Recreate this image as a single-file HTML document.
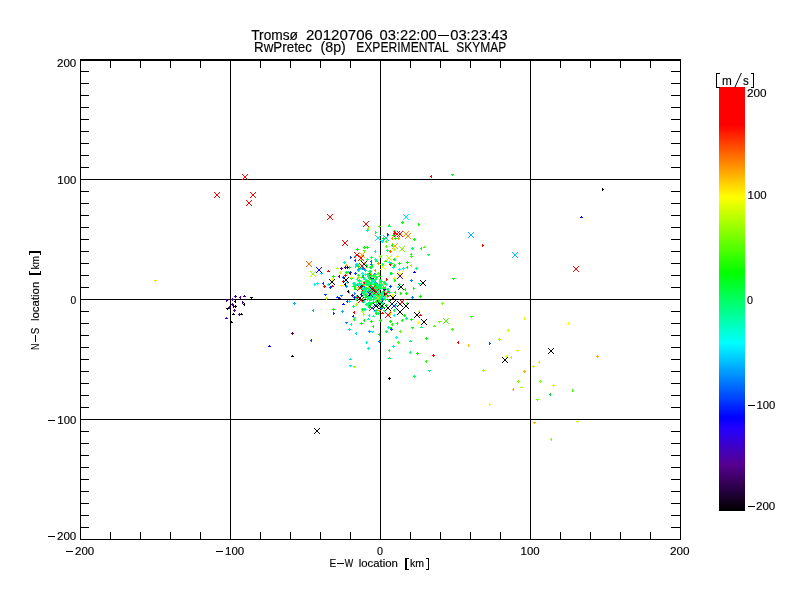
<!DOCTYPE html>
<html><head><meta charset="utf-8"><title>Skymap</title>
<style>html,body{margin:0;padding:0;background:#fff}body{width:800px;height:600px;overflow:hidden}svg{display:block;will-change:transform}text{font-family:"Liberation Sans",sans-serif;fill:#000;stroke:#000;stroke-width:.15px}</style></head><body>
<svg width="800" height="600" viewBox="0 0 800 600">
<defs>
<linearGradient id="cb" x1="0" y1="0" x2="0" y2="1">
<stop offset="0.0000" stop-color="#ff0000"/>
<stop offset="0.0896" stop-color="#ff0000"/>
<stop offset="0.2594" stop-color="#ffff00"/>
<stop offset="0.4387" stop-color="#00ff00"/>
<stop offset="0.6038" stop-color="#00ffff"/>
<stop offset="0.7795" stop-color="#0000ff"/>
<stop offset="0.8042" stop-color="#2300ff"/>
<stop offset="0.8903" stop-color="#570091"/>
<stop offset="1.0000" stop-color="#000000"/>
</linearGradient>
<path id="x" d="M-3 -3h1v1h-1zM-2 -2h1v1h-1zM-1 -1h1v1h-1zM0 0h1v1h-1zM1 1h1v1h-1zM2 2h1v1h-1zM-3 2h1v1h-1zM-2 1h1v1h-1zM-1 0h1v1h-1zM0 -1h1v1h-1zM1 -2h1v1h-1zM2 -3h1v1h-1z"/>
<path id="p" d="M0 0h1v1h-1zM-1 0h1v1h-1zM1 0h1v1h-1zM0 -1h1v1h-1zM0 1h1v1h-1z"/>
<path id="u" d="M0 -1h1v1h-1zM-1 0h1v1h-1zM0 0h1v1h-1zM1 0h1v1h-1z"/>
<path id="d" d="M0 1h1v1h-1zM-1 0h1v1h-1zM0 0h1v1h-1zM1 0h1v1h-1z"/>
<path id="l" d="M-1 0h1v1h-1zM0 -1h1v1h-1zM0 0h1v1h-1zM0 1h1v1h-1z"/>
<path id="r" d="M1 0h1v1h-1zM0 -1h1v1h-1zM0 0h1v1h-1zM0 1h1v1h-1z"/>
</defs>
<rect x="0" y="0" width="800" height="600" fill="#fff"/>
<g fill="#000" shape-rendering="crispEdges">
<rect x="80" y="59" width="601" height="2"/>
<rect x="80" y="539" width="601" height="1"/>
<rect x="80" y="59" width="1" height="481"/>
<rect x="680" y="59" width="1" height="481"/>
<rect x="230" y="59" width="1" height="481"/>
<rect x="380" y="59" width="1" height="481"/>
<rect x="530" y="59" width="1" height="481"/>
<rect x="80" y="179" width="601" height="1"/>
<rect x="80" y="299" width="601" height="1"/>
<rect x="80" y="419" width="601" height="1"/>
<path d="M110 61h1v7h-1zM110 532h1v7h-1zM140 61h1v7h-1zM140 532h1v7h-1zM170 61h1v7h-1zM170 532h1v7h-1zM200 61h1v7h-1zM200 532h1v7h-1zM260 61h1v7h-1zM260 532h1v7h-1zM290 61h1v7h-1zM290 532h1v7h-1zM320 61h1v7h-1zM320 532h1v7h-1zM350 61h1v7h-1zM350 532h1v7h-1zM410 61h1v7h-1zM410 532h1v7h-1zM440 61h1v7h-1zM440 532h1v7h-1zM470 61h1v7h-1zM470 532h1v7h-1zM500 61h1v7h-1zM500 532h1v7h-1zM560 61h1v7h-1zM560 532h1v7h-1zM590 61h1v7h-1zM590 532h1v7h-1zM620 61h1v7h-1zM620 532h1v7h-1zM650 61h1v7h-1zM650 532h1v7h-1zM81 71h8v1h-8zM671 71h9v1h-9zM81 83h8v1h-8zM671 83h9v1h-9zM81 95h8v1h-8zM671 95h9v1h-9zM81 107h8v1h-8zM671 107h9v1h-9zM81 119h8v1h-8zM671 119h9v1h-9zM81 131h8v1h-8zM671 131h9v1h-9zM81 143h8v1h-8zM671 143h9v1h-9zM81 155h8v1h-8zM671 155h9v1h-9zM81 167h8v1h-8zM671 167h9v1h-9zM81 191h8v1h-8zM671 191h9v1h-9zM81 203h8v1h-8zM671 203h9v1h-9zM81 215h8v1h-8zM671 215h9v1h-9zM81 227h8v1h-8zM671 227h9v1h-9zM81 239h8v1h-8zM671 239h9v1h-9zM81 251h8v1h-8zM671 251h9v1h-9zM81 263h8v1h-8zM671 263h9v1h-9zM81 275h8v1h-8zM671 275h9v1h-9zM81 287h8v1h-8zM671 287h9v1h-9zM81 311h8v1h-8zM671 311h9v1h-9zM81 323h8v1h-8zM671 323h9v1h-9zM81 335h8v1h-8zM671 335h9v1h-9zM81 347h8v1h-8zM671 347h9v1h-9zM81 359h8v1h-8zM671 359h9v1h-9zM81 371h8v1h-8zM671 371h9v1h-9zM81 383h8v1h-8zM671 383h9v1h-9zM81 395h8v1h-8zM671 395h9v1h-9zM81 407h8v1h-8zM671 407h9v1h-9zM81 431h8v1h-8zM671 431h9v1h-9zM81 443h8v1h-8zM671 443h9v1h-9zM81 455h8v1h-8zM671 455h9v1h-9zM81 467h8v1h-8zM671 467h9v1h-9zM81 479h8v1h-8zM671 479h9v1h-9zM81 491h8v1h-8zM671 491h9v1h-9zM81 503h8v1h-8zM671 503h9v1h-9zM81 515h8v1h-8zM671 515h9v1h-9zM81 527h8v1h-8zM671 527h9v1h-9z"/>
</g>
<g shape-rendering="crispEdges">
<use href="#p" x="370" y="293" fill="#00ff65"/>
<use href="#p" x="370" y="290" fill="#00ff75"/>
<use href="#l" x="377" y="292" fill="#00ff60"/>
<use href="#p" x="387" y="289" fill="#00ff7b"/>
<use href="#p" x="376" y="289" fill="#00ffb0"/>
<use href="#p" x="379" y="297" fill="#00ff5f"/>
<use href="#p" x="374" y="293" fill="#00ff57"/>
<use href="#d" x="360" y="283" fill="#00ff0b"/>
<use href="#p" x="367" y="292" fill="#6bff00"/>
<use href="#d" x="361" y="277" fill="#72ff00"/>
<use href="#l" x="378" y="289" fill="#00ff85"/>
<use href="#p" x="383" y="287" fill="#00cdff"/>
<use href="#d" x="379" y="284" fill="#00ff5e"/>
<use href="#u" x="353" y="286" fill="#00ff4f"/>
<use href="#r" x="388" y="300" fill="#00ff7d"/>
<use href="#r" x="371" y="286" fill="#00ff58"/>
<use href="#u" x="365" y="285" fill="#00ff97"/>
<use href="#p" x="356" y="296" fill="#00ff7b"/>
<use href="#l" x="372" y="293" fill="#000cff"/>
<use href="#l" x="364" y="290" fill="#470077"/>
<use href="#p" x="376" y="297" fill="#00ff29"/>
<use href="#p" x="376" y="298" fill="#00ff80"/>
<use href="#p" x="349" y="267" fill="#00ff1d"/>
<use href="#l" x="388" y="289" fill="#00ff7c"/>
<use href="#p" x="362" y="285" fill="#00ff9f"/>
<use href="#p" x="378" y="299" fill="#00ff60"/>
<use href="#p" x="348" y="272" fill="#00ffa0"/>
<use href="#d" x="362" y="295" fill="#00ff6f"/>
<use href="#r" x="382" y="300" fill="#00ff8a"/>
<use href="#u" x="383" y="307" fill="#00ff49"/>
<use href="#d" x="365" y="284" fill="#00ff64"/>
<use href="#p" x="385" y="295" fill="#6eff00"/>
<use href="#p" x="368" y="291" fill="#00ff36"/>
<use href="#p" x="369" y="293" fill="#00f0ff"/>
<use href="#r" x="372" y="280" fill="#00ffdb"/>
<use href="#u" x="381" y="293" fill="#00ff59"/>
<use href="#d" x="362" y="300" fill="#550095"/>
<use href="#p" x="374" y="296" fill="#00ff6e"/>
<use href="#p" x="387" y="292" fill="#00ff51"/>
<use href="#p" x="374" y="284" fill="#ff8e00"/>
<use href="#p" x="373" y="275" fill="#00ff54"/>
<use href="#l" x="394" y="310" fill="#00ff3e"/>
<use href="#p" x="378" y="293" fill="#00ff5c"/>
<use href="#r" x="358" y="285" fill="#7dff00"/>
<use href="#p" x="367" y="284" fill="#00e3ff"/>
<use href="#p" x="386" y="305" fill="#00ff1d"/>
<use href="#u" x="376" y="283" fill="#00ff6b"/>
<use href="#l" x="373" y="279" fill="#1500ff"/>
<use href="#l" x="371" y="264" fill="#006aff"/>
<use href="#p" x="377" y="294" fill="#ff8e00"/>
<use href="#p" x="358" y="270" fill="#00ff6f"/>
<use href="#d" x="370" y="273" fill="#9dff00"/>
<use href="#p" x="354" y="283" fill="#00ff91"/>
<use href="#p" x="374" y="276" fill="#00fdff"/>
<use href="#p" x="359" y="288" fill="#8fff00"/>
<use href="#p" x="361" y="281" fill="#d9ff00"/>
<use href="#p" x="380" y="288" fill="#0900ff"/>
<use href="#p" x="381" y="299" fill="#8bff00"/>
<use href="#p" x="375" y="298" fill="#fff600"/>
<use href="#p" x="369" y="271" fill="#00ffb2"/>
<use href="#p" x="355" y="285" fill="#00ff6d"/>
<use href="#p" x="392" y="295" fill="#eeff00"/>
<use href="#d" x="363" y="291" fill="#00ff43"/>
<use href="#r" x="386" y="295" fill="#83ff00"/>
<use href="#p" x="364" y="283" fill="#00ff0d"/>
<use href="#p" x="375" y="311" fill="#00ffd5"/>
<use href="#p" x="374" y="280" fill="#00f4ff"/>
<use href="#l" x="361" y="260" fill="#00ff0d"/>
<use href="#p" x="358" y="275" fill="#00ff31"/>
<use href="#u" x="382" y="313" fill="#ff0000"/>
<use href="#p" x="360" y="268" fill="#00ff9c"/>
<use href="#p" x="372" y="293" fill="#00ff62"/>
<use href="#p" x="380" y="287" fill="#00ff45"/>
<use href="#u" x="398" y="287" fill="#00ffa1"/>
<use href="#p" x="369" y="295" fill="#00ff6b"/>
<use href="#p" x="377" y="299" fill="#000000"/>
<use href="#p" x="374" y="289" fill="#00ff97"/>
<use href="#l" x="358" y="287" fill="#9fff00"/>
<use href="#u" x="394" y="278" fill="#ecff00"/>
<use href="#p" x="362" y="301" fill="#00ff84"/>
<use href="#p" x="378" y="292" fill="#daff00"/>
<use href="#l" x="369" y="288" fill="#ffa000"/>
<use href="#u" x="371" y="295" fill="#00ffa5"/>
<use href="#d" x="372" y="289" fill="#2d00e9"/>
<use href="#u" x="365" y="283" fill="#00ffa6"/>
<use href="#u" x="370" y="291" fill="#00ffa1"/>
<use href="#u" x="371" y="288" fill="#0091ff"/>
<use href="#u" x="364" y="279" fill="#00ff9a"/>
<use href="#p" x="361" y="277" fill="#bdff00"/>
<use href="#d" x="380" y="283" fill="#96ff00"/>
<use href="#p" x="369" y="302" fill="#00ff28"/>
<use href="#p" x="384" y="283" fill="#ff9200"/>
<use href="#p" x="355" y="273" fill="#003cff"/>
<use href="#p" x="385" y="283" fill="#00ffd4"/>
<use href="#l" x="355" y="260" fill="#0038ff"/>
<use href="#p" x="362" y="273" fill="#00fff3"/>
<use href="#p" x="378" y="273" fill="#4bff00"/>
<use href="#p" x="372" y="279" fill="#0005ff"/>
<use href="#r" x="373" y="280" fill="#00ff7e"/>
<use href="#p" x="357" y="284" fill="#00ff53"/>
<use href="#u" x="378" y="293" fill="#b9ff00"/>
<use href="#r" x="368" y="282" fill="#00ff93"/>
<use href="#r" x="365" y="270" fill="#00ff68"/>
<use href="#p" x="361" y="286" fill="#000000"/>
<use href="#p" x="364" y="282" fill="#ff0000"/>
<use href="#r" x="384" y="294" fill="#000000"/>
<use href="#p" x="355" y="297" fill="#00ffc0"/>
<use href="#d" x="372" y="279" fill="#00ff2c"/>
<use href="#d" x="351" y="278" fill="#00ff14"/>
<use href="#p" x="370" y="287" fill="#ff0000"/>
<use href="#p" x="368" y="276" fill="#00ff7f"/>
<use href="#d" x="379" y="298" fill="#00f3ff"/>
<use href="#p" x="390" y="312" fill="#ffdf00"/>
<use href="#p" x="365" y="293" fill="#00ff76"/>
<use href="#p" x="372" y="291" fill="#00ff4f"/>
<use href="#u" x="369" y="282" fill="#00ff8a"/>
<use href="#l" x="375" y="270" fill="#ff8900"/>
<use href="#p" x="357" y="264" fill="#48ff00"/>
<use href="#p" x="371" y="276" fill="#72ff00"/>
<use href="#p" x="395" y="305" fill="#00ff78"/>
<use href="#u" x="371" y="296" fill="#00ff99"/>
<use href="#p" x="357" y="284" fill="#00ffab"/>
<use href="#r" x="378" y="313" fill="#00ff72"/>
<use href="#l" x="364" y="301" fill="#00ffa3"/>
<use href="#p" x="381" y="297" fill="#00ff80"/>
<use href="#p" x="375" y="282" fill="#00b7ff"/>
<use href="#l" x="362" y="291" fill="#00ff3c"/>
<use href="#d" x="359" y="283" fill="#00ff6a"/>
<use href="#p" x="358" y="266" fill="#00ff15"/>
<use href="#l" x="361" y="294" fill="#3600d8"/>
<use href="#p" x="374" y="287" fill="#00ff3a"/>
<use href="#r" x="382" y="264" fill="#00ff7c"/>
<use href="#r" x="390" y="286" fill="#500085"/>
<use href="#p" x="377" y="294" fill="#ff0000"/>
<use href="#r" x="370" y="271" fill="#00ff37"/>
<use href="#p" x="378" y="290" fill="#75ff00"/>
<use href="#l" x="378" y="296" fill="#53ff00"/>
<use href="#p" x="384" y="298" fill="#00ff9c"/>
<use href="#u" x="371" y="287" fill="#000000"/>
<use href="#p" x="371" y="297" fill="#00ff9a"/>
<use href="#u" x="373" y="316" fill="#00ffa3"/>
<use href="#p" x="384" y="282" fill="#00ff4e"/>
<use href="#p" x="379" y="287" fill="#beff00"/>
<use href="#p" x="366" y="294" fill="#00e5ff"/>
<use href="#p" x="365" y="285" fill="#00ff2c"/>
<use href="#u" x="373" y="296" fill="#00ff56"/>
<use href="#r" x="355" y="266" fill="#00ff4e"/>
<use href="#l" x="378" y="288" fill="#00ffdf"/>
<use href="#p" x="364" y="278" fill="#00ff73"/>
<use href="#p" x="370" y="278" fill="#000000"/>
<use href="#p" x="381" y="287" fill="#9cff00"/>
<use href="#l" x="364" y="286" fill="#007bff"/>
<use href="#p" x="368" y="288" fill="#00ff83"/>
<use href="#p" x="378" y="289" fill="#00ff38"/>
<use href="#p" x="366" y="304" fill="#00ff6f"/>
<use href="#p" x="356" y="299" fill="#00ff40"/>
<use href="#p" x="358" y="285" fill="#00e9ff"/>
<use href="#p" x="375" y="290" fill="#0086ff"/>
<use href="#d" x="374" y="292" fill="#00ff86"/>
<use href="#d" x="376" y="288" fill="#ff0000"/>
<use href="#p" x="368" y="303" fill="#00ff9a"/>
<use href="#l" x="347" y="282" fill="#00fdff"/>
<use href="#r" x="375" y="283" fill="#00ff30"/>
<use href="#p" x="371" y="267" fill="#00ff87"/>
<use href="#p" x="368" y="296" fill="#00ff7c"/>
<use href="#p" x="378" y="300" fill="#00ff64"/>
<use href="#p" x="378" y="300" fill="#000000"/>
<use href="#p" x="372" y="292" fill="#1cff00"/>
<use href="#p" x="379" y="289" fill="#00ff57"/>
<use href="#p" x="364" y="269" fill="#00a6ff"/>
<use href="#u" x="371" y="296" fill="#63ff00"/>
<use href="#p" x="373" y="296" fill="#00ff11"/>
<use href="#u" x="374" y="292" fill="#000000"/>
<use href="#p" x="365" y="285" fill="#edff00"/>
<use href="#p" x="382" y="299" fill="#0070ff"/>
<use href="#p" x="381" y="294" fill="#00ff5a"/>
<use href="#p" x="376" y="283" fill="#00ff1f"/>
<use href="#p" x="365" y="288" fill="#00ff5b"/>
<use href="#d" x="367" y="281" fill="#00ffd3"/>
<use href="#p" x="375" y="289" fill="#00f0ff"/>
<use href="#u" x="364" y="290" fill="#00ffda"/>
<use href="#l" x="360" y="284" fill="#00ff7c"/>
<use href="#p" x="358" y="277" fill="#85ff00"/>
<use href="#u" x="368" y="319" fill="#00ffd0"/>
<use href="#l" x="372" y="265" fill="#00ff1f"/>
<use href="#p" x="382" y="292" fill="#00ff7a"/>
<use href="#p" x="383" y="288" fill="#00ff2c"/>
<use href="#r" x="354" y="293" fill="#008fff"/>
<use href="#l" x="378" y="292" fill="#00ff56"/>
<use href="#p" x="364" y="294" fill="#00ffab"/>
<use href="#l" x="374" y="292" fill="#00ff30"/>
<use href="#p" x="379" y="289" fill="#1700ff"/>
<use href="#l" x="380" y="286" fill="#00ff45"/>
<use href="#p" x="364" y="263" fill="#acff00"/>
<use href="#p" x="376" y="301" fill="#00ff04"/>
<use href="#p" x="378" y="299" fill="#00ff42"/>
<use href="#p" x="375" y="287" fill="#79ff00"/>
<use href="#u" x="364" y="292" fill="#76ff00"/>
<use href="#d" x="373" y="299" fill="#00ff75"/>
<use href="#r" x="387" y="296" fill="#00ff73"/>
<use href="#p" x="358" y="269" fill="#00b5ff"/>
<use href="#d" x="382" y="296" fill="#00ff74"/>
<use href="#p" x="369" y="287" fill="#00ff40"/>
<use href="#p" x="375" y="276" fill="#00fbff"/>
<use href="#p" x="362" y="268" fill="#007cff"/>
<use href="#p" x="370" y="267" fill="#00ff19"/>
<use href="#p" x="368" y="306" fill="#beff00"/>
<use href="#u" x="376" y="310" fill="#00ff15"/>
<use href="#p" x="369" y="307" fill="#09ff00"/>
<use href="#p" x="359" y="284" fill="#00ffd7"/>
<use href="#u" x="375" y="295" fill="#ddff00"/>
<use href="#p" x="381" y="308" fill="#0084ff"/>
<use href="#r" x="390" y="273" fill="#00ff5e"/>
<use href="#l" x="376" y="286" fill="#81ff00"/>
<use href="#p" x="365" y="293" fill="#00ff39"/>
<use href="#p" x="366" y="288" fill="#00ff68"/>
<use href="#d" x="362" y="311" fill="#c3ff00"/>
<use href="#l" x="374" y="298" fill="#00ff81"/>
<use href="#p" x="384" y="296" fill="#00fff4"/>
<use href="#d" x="369" y="291" fill="#00ff79"/>
<use href="#d" x="371" y="293" fill="#93ff00"/>
<use href="#p" x="389" y="314" fill="#8fff00"/>
<use href="#u" x="378" y="293" fill="#00ff94"/>
<use href="#d" x="388" y="295" fill="#00ff5e"/>
<use href="#r" x="362" y="276" fill="#00ff12"/>
<use href="#l" x="385" y="297" fill="#00ffac"/>
<use href="#p" x="377" y="287" fill="#00ffa2"/>
<use href="#l" x="363" y="276" fill="#0095ff"/>
<use href="#p" x="369" y="295" fill="#000000"/>
<use href="#p" x="371" y="275" fill="#00ff75"/>
<use href="#r" x="376" y="287" fill="#28ff00"/>
<use href="#p" x="371" y="303" fill="#00ff3d"/>
<use href="#p" x="366" y="265" fill="#00ff62"/>
<use href="#u" x="355" y="289" fill="#00ff09"/>
<use href="#p" x="376" y="287" fill="#00ff12"/>
<use href="#p" x="376" y="283" fill="#00abff"/>
<use href="#p" x="379" y="284" fill="#00ff23"/>
<use href="#r" x="399" y="284" fill="#00ff66"/>
<use href="#p" x="375" y="289" fill="#00ff8b"/>
<use href="#p" x="376" y="304" fill="#00ffa8"/>
<use href="#p" x="378" y="291" fill="#00ffb0"/>
<use href="#p" x="376" y="290" fill="#c1ff00"/>
<use href="#d" x="385" y="299" fill="#04ff00"/>
<use href="#l" x="357" y="279" fill="#00ffa0"/>
<use href="#p" x="375" y="291" fill="#0043ff"/>
<use href="#p" x="371" y="292" fill="#00d8ff"/>
<use href="#u" x="370" y="297" fill="#00ff95"/>
<use href="#d" x="369" y="304" fill="#ff0000"/>
<use href="#r" x="374" y="274" fill="#0041ff"/>
<use href="#l" x="383" y="294" fill="#00ffbd"/>
<use href="#p" x="369" y="287" fill="#d1ff00"/>
<use href="#l" x="365" y="281" fill="#00ffa1"/>
<use href="#p" x="375" y="259" fill="#00ffbe"/>
<use href="#r" x="366" y="266" fill="#05ff00"/>
<use href="#p" x="359" y="281" fill="#00ff9e"/>
<use href="#p" x="369" y="274" fill="#ff0000"/>
<use href="#p" x="374" y="276" fill="#7eff00"/>
<use href="#p" x="364" y="291" fill="#00ff52"/>
<use href="#l" x="366" y="292" fill="#ffbc00"/>
<use href="#p" x="357" y="297" fill="#ff0000"/>
<use href="#p" x="382" y="303" fill="#00ff88"/>
<use href="#d" x="384" y="310" fill="#00ff75"/>
<use href="#p" x="375" y="274" fill="#00ff53"/>
<use href="#u" x="368" y="274" fill="#00ff47"/>
<use href="#p" x="376" y="284" fill="#3e00c7"/>
<use href="#p" x="365" y="279" fill="#00ffa4"/>
<use href="#p" x="389" y="292" fill="#00ff50"/>
<use href="#p" x="375" y="295" fill="#00e4ff"/>
<use href="#p" x="366" y="288" fill="#00ff19"/>
<use href="#l" x="371" y="288" fill="#97ff00"/>
<use href="#p" x="369" y="286" fill="#00ff92"/>
<use href="#p" x="373" y="290" fill="#00ff17"/>
<use href="#l" x="366" y="295" fill="#00ff29"/>
<use href="#p" x="369" y="283" fill="#00ff4e"/>
<use href="#d" x="369" y="285" fill="#00ff92"/>
<use href="#p" x="369" y="278" fill="#00ff39"/>
<use href="#u" x="371" y="282" fill="#00ff28"/>
<use href="#l" x="372" y="291" fill="#00ff68"/>
<use href="#d" x="367" y="280" fill="#00ff3a"/>
<use href="#p" x="368" y="296" fill="#00ffcf"/>
<use href="#p" x="370" y="290" fill="#00ff68"/>
<use href="#p" x="379" y="296" fill="#00ff46"/>
<use href="#d" x="365" y="290" fill="#00ff68"/>
<use href="#p" x="362" y="299" fill="#15ff00"/>
<use href="#p" x="376" y="298" fill="#00ff44"/>
<use href="#u" x="367" y="285" fill="#00ff8f"/>
<use href="#l" x="372" y="292" fill="#00ff14"/>
<use href="#u" x="367" y="284" fill="#00ffb4"/>
<use href="#p" x="371" y="297" fill="#1aff00"/>
<use href="#p" x="379" y="289" fill="#00ffaf"/>
<use href="#p" x="375" y="279" fill="#00ff70"/>
<use href="#p" x="369" y="289" fill="#00ff81"/>
<use href="#l" x="366" y="282" fill="#00ff70"/>
<use href="#p" x="371" y="299" fill="#00ff39"/>
<use href="#p" x="364" y="293" fill="#00ff90"/>
<use href="#l" x="370" y="294" fill="#00ff4e"/>
<use href="#u" x="363" y="292" fill="#00ff80"/>
<use href="#r" x="370" y="286" fill="#00ff75"/>
<use href="#d" x="368" y="284" fill="#00ffa9"/>
<use href="#p" x="371" y="297" fill="#00ff2e"/>
<use href="#p" x="381" y="285" fill="#00ff66"/>
<use href="#p" x="369" y="298" fill="#00ff9c"/>
<use href="#p" x="377" y="293" fill="#00ff5f"/>
<use href="#r" x="375" y="288" fill="#00ff82"/>
<use href="#p" x="380" y="303" fill="#00ff5a"/>
<use href="#p" x="367" y="274" fill="#00ff50"/>
<use href="#u" x="381" y="284" fill="#00ff9e"/>
<use href="#r" x="371" y="284" fill="#00ff4f"/>
<use href="#l" x="375" y="293" fill="#00ff97"/>
<use href="#p" x="377" y="297" fill="#00ff6d"/>
<use href="#p" x="380" y="285" fill="#00ff6b"/>
<use href="#p" x="362" y="288" fill="#00ffa7"/>
<use href="#r" x="369" y="300" fill="#00ff50"/>
<use href="#l" x="376" y="286" fill="#29ff00"/>
<use href="#d" x="371" y="287" fill="#00ff55"/>
<use href="#d" x="380" y="293" fill="#00ff33"/>
<use href="#p" x="378" y="295" fill="#00ffd1"/>
<use href="#d" x="371" y="282" fill="#00ffb9"/>
<use href="#p" x="370" y="286" fill="#00ff8d"/>
<use href="#p" x="371" y="295" fill="#00ff2e"/>
<use href="#l" x="370" y="303" fill="#00ff84"/>
<use href="#d" x="384" y="290" fill="#08ff00"/>
<use href="#d" x="367" y="281" fill="#00ff9f"/>
<use href="#p" x="372" y="288" fill="#00ff38"/>
<use href="#l" x="382" y="294" fill="#00ff64"/>
<use href="#p" x="377" y="293" fill="#00ffcb"/>
<use href="#p" x="376" y="284" fill="#00ff37"/>
<use href="#p" x="379" y="286" fill="#00ff57"/>
<use href="#p" x="371" y="283" fill="#00ff9b"/>
<use href="#p" x="370" y="285" fill="#00ffb7"/>
<use href="#p" x="374" y="293" fill="#00ff14"/>
<use href="#p" x="370" y="286" fill="#00ff38"/>
<use href="#u" x="369" y="289" fill="#00ffa1"/>
<use href="#p" x="374" y="291" fill="#00ff6b"/>
<use href="#l" x="363" y="289" fill="#00ff5f"/>
<use href="#p" x="378" y="288" fill="#00ff4d"/>
<use href="#p" x="359" y="280" fill="#00ff6f"/>
<use href="#r" x="371" y="293" fill="#00ff9b"/>
<use href="#p" x="374" y="292" fill="#00ffe2"/>
<use href="#p" x="365" y="274" fill="#00ff9a"/>
<use href="#u" x="377" y="296" fill="#00ff46"/>
<use href="#p" x="373" y="302" fill="#00ff11"/>
<use href="#p" x="367" y="299" fill="#00ff44"/>
<use href="#r" x="380" y="296" fill="#00ff71"/>
<use href="#p" x="377" y="289" fill="#00ff46"/>
<use href="#p" x="374" y="291" fill="#00ff7b"/>
<use href="#r" x="370" y="299" fill="#00ff5a"/>
<use href="#r" x="368" y="305" fill="#00ff6f"/>
<use href="#p" x="380" y="306" fill="#00ff80"/>
<use href="#l" x="368" y="284" fill="#00ff6e"/>
<use href="#u" x="374" y="284" fill="#00ff38"/>
<use href="#p" x="369" y="289" fill="#00ff58"/>
<use href="#d" x="367" y="281" fill="#00ff23"/>
<use href="#p" x="373" y="290" fill="#00ff5b"/>
<use href="#p" x="371" y="297" fill="#00ff7d"/>
<use href="#p" x="370" y="283" fill="#00ff33"/>
<use href="#u" x="373" y="291" fill="#00ff90"/>
<use href="#p" x="380" y="303" fill="#00ff8c"/>
<use href="#p" x="380" y="302" fill="#00ff8f"/>
<use href="#r" x="379" y="282" fill="#00ff82"/>
<use href="#l" x="379" y="295" fill="#00ff9e"/>
<use href="#p" x="373" y="276" fill="#00ff89"/>
<use href="#p" x="378" y="293" fill="#00ff10"/>
<use href="#l" x="372" y="291" fill="#00ff71"/>
<use href="#p" x="381" y="297" fill="#00ff97"/>
<use href="#d" x="363" y="284" fill="#00ff6e"/>
<use href="#p" x="370" y="289" fill="#00ffba"/>
<use href="#d" x="375" y="286" fill="#00ff79"/>
<use href="#p" x="370" y="291" fill="#00ff11"/>
<use href="#d" x="362" y="292" fill="#00ff56"/>
<use href="#p" x="374" y="287" fill="#00ff83"/>
<use href="#p" x="372" y="291" fill="#00ff9d"/>
<use href="#p" x="378" y="285" fill="#00ff91"/>
<use href="#r" x="374" y="284" fill="#00ff3c"/>
<use href="#u" x="379" y="276" fill="#00ff2a"/>
<use href="#l" x="364" y="309" fill="#00ffbd"/>
<use href="#r" x="380" y="294" fill="#00ff6d"/>
<use href="#l" x="380" y="280" fill="#00ff12"/>
<use href="#d" x="372" y="288" fill="#00ff61"/>
<use href="#l" x="364" y="278" fill="#00ffa2"/>
<use href="#p" x="376" y="286" fill="#17ff00"/>
<use href="#u" x="373" y="293" fill="#00ff0a"/>
<use href="#p" x="379" y="294" fill="#00ff2c"/>
<use href="#r" x="382" y="294" fill="#00ffc7"/>
<use href="#p" x="379" y="300" fill="#00ff4e"/>
<use href="#p" x="371" y="299" fill="#00ff6f"/>
<use href="#d" x="369" y="296" fill="#00ff6e"/>
<use href="#p" x="375" y="295" fill="#00ff14"/>
<use href="#p" x="378" y="286" fill="#00ff35"/>
<use href="#p" x="379" y="301" fill="#00ff0d"/>
<use href="#p" x="381" y="281" fill="#00ff3a"/>
<use href="#l" x="385" y="287" fill="#00ff2a"/>
<use href="#d" x="369" y="286" fill="#00ff86"/>
<use href="#d" x="373" y="294" fill="#00ffab"/>
<use href="#r" x="373" y="293" fill="#00ff63"/>
<use href="#u" x="380" y="301" fill="#00ff77"/>
<use href="#u" x="373" y="292" fill="#00ff84"/>
<use href="#d" x="376" y="298" fill="#00ff71"/>
<use href="#p" x="370" y="291" fill="#00ff56"/>
<use href="#r" x="376" y="277" fill="#00ff2c"/>
<use href="#d" x="380" y="298" fill="#00ff75"/>
<use href="#p" x="373" y="296" fill="#00ffb8"/>
<use href="#p" x="370" y="304" fill="#00ff2d"/>
<use href="#p" x="376" y="291" fill="#00ff73"/>
<use href="#r" x="366" y="291" fill="#00ffec"/>
<use href="#p" x="376" y="284" fill="#00ff80"/>
<use href="#u" x="378" y="293" fill="#00ff60"/>
<use href="#p" x="375" y="294" fill="#00ff47"/>
<use href="#p" x="374" y="293" fill="#00ff1d"/>
<use href="#p" x="372" y="280" fill="#00ff9c"/>
<use href="#p" x="366" y="284" fill="#00ff5e"/>
<use href="#l" x="374" y="293" fill="#00ff2b"/>
<use href="#d" x="379" y="287" fill="#00ff84"/>
<use href="#r" x="379" y="280" fill="#00ffba"/>
<use href="#p" x="365" y="297" fill="#00ff22"/>
<use href="#d" x="373" y="295" fill="#00ffd0"/>
<use href="#p" x="371" y="283" fill="#00ff81"/>
<use href="#p" x="386" y="284" fill="#00ffb1"/>
<use href="#d" x="371" y="279" fill="#00ff39"/>
<use href="#p" x="378" y="285" fill="#00ff8c"/>
<use href="#d" x="155" y="280" fill="#ffdc00"/>
<use href="#r" x="226" y="300" fill="#500096"/>
<use href="#p" x="232" y="299" fill="#500096"/>
<use href="#p" x="235" y="296" fill="#500096"/>
<use href="#l" x="240" y="297" fill="#500096"/>
<use href="#u" x="244" y="296" fill="#500096"/>
<use href="#d" x="251" y="297" fill="#000000"/>
<use href="#l" x="235" y="301" fill="#000000"/>
<use href="#p" x="232" y="304" fill="#500096"/>
<use href="#r" x="242" y="302" fill="#500096"/>
<use href="#l" x="244" y="304" fill="#000000"/>
<use href="#r" x="233" y="306" fill="#000000"/>
<use href="#r" x="235" y="306" fill="#000000"/>
<use href="#d" x="227" y="308" fill="#000000"/>
<use href="#p" x="229" y="307" fill="#500096"/>
<use href="#p" x="234" y="310" fill="#500096"/>
<use href="#u" x="233" y="314" fill="#000000"/>
<use href="#l" x="239" y="314" fill="#500096"/>
<use href="#u" x="241" y="314" fill="#000000"/>
<use href="#u" x="226" y="318" fill="#3c00ff"/>
<use href="#u" x="231" y="322" fill="#000000"/>
<use href="#u" x="269" y="346" fill="#0000ff"/>
<use href="#p" x="294" y="303" fill="#00b4ff"/>
<use href="#l" x="313" y="310" fill="#00b4ff"/>
<use href="#p" x="333" y="309" fill="#00ff00"/>
<use href="#r" x="333" y="313" fill="#003cff"/>
<use href="#u" x="343" y="304" fill="#0000ff"/>
<use href="#p" x="342" y="311" fill="#00b4ff"/>
<use href="#d" x="346" y="322" fill="#1e78ff"/>
<use href="#p" x="349" y="329" fill="#00e6b4"/>
<use href="#p" x="292" y="333" fill="#500064"/>
<use href="#l" x="311" y="340" fill="#003cff"/>
<use href="#u" x="292" y="356" fill="#000000"/>
<use href="#l" x="356" y="333" fill="#00dcff"/>
<use href="#p" x="369" y="331" fill="#0096ff"/>
<use href="#d" x="372" y="331" fill="#00f0e6"/>
<use href="#l" x="379" y="334" fill="#00ff00"/>
<use href="#p" x="386" y="331" fill="#00ff50"/>
<use href="#l" x="400" y="331" fill="#50ff00"/>
<use href="#p" x="396" y="337" fill="#00f0e6"/>
<use href="#p" x="398" y="342" fill="#3cff00"/>
<use href="#u" x="410" y="341" fill="#00ff64"/>
<use href="#p" x="426" y="338" fill="#00ff00"/>
<use href="#r" x="366" y="342" fill="#00f0b4"/>
<use href="#p" x="379" y="341" fill="#0082ff"/>
<use href="#p" x="368" y="348" fill="#00f0dc"/>
<use href="#p" x="393" y="346" fill="#00f0b4"/>
<use href="#l" x="389" y="350" fill="#28ff00"/>
<use href="#l" x="410" y="352" fill="#00ff64"/>
<use href="#p" x="417" y="353" fill="#1eff00"/>
<use href="#u" x="389" y="358" fill="#00ff50"/>
<use href="#l" x="426" y="361" fill="#1eff00"/>
<use href="#u" x="350" y="359" fill="#00f0c8"/>
<use href="#d" x="350" y="365" fill="#00e6ff"/>
<use href="#d" x="354" y="366" fill="#82ff00"/>
<use href="#d" x="429" y="370" fill="#00f0b4"/>
<use href="#p" x="414" y="376" fill="#00ff50"/>
<use href="#p" x="389" y="378" fill="#000000"/>
<use href="#p" x="442" y="303" fill="#82ff00"/>
<use href="#d" x="439" y="321" fill="#64ff00"/>
<use href="#u" x="434" y="326" fill="#3cff00"/>
<use href="#p" x="452" y="329" fill="#3cff00"/>
<use href="#d" x="471" y="316" fill="#3cff00"/>
<use href="#r" x="524" y="318" fill="#e6ff00"/>
<use href="#l" x="508" y="330" fill="#beff00"/>
<use href="#p" x="499" y="339" fill="#96ff00"/>
<use href="#l" x="458" y="342" fill="#ff0000"/>
<use href="#r" x="468" y="345" fill="#ffbe00"/>
<use href="#r" x="489" y="343" fill="#0050ff"/>
<use href="#d" x="517" y="350" fill="#dcff00"/>
<use href="#p" x="506" y="356" fill="#e6ff00"/>
<use href="#l" x="511" y="357" fill="#beff00"/>
<use href="#p" x="433" y="355" fill="#ff0000"/>
<use href="#p" x="483" y="370" fill="#96ff00"/>
<use href="#p" x="524" y="371" fill="#ffaa00"/>
<use href="#p" x="568" y="323" fill="#ffff00"/>
<use href="#p" x="597" y="356" fill="#ffaa00"/>
<use href="#l" x="539" y="362" fill="#c8ff00"/>
<use href="#p" x="533" y="366" fill="#c8ff00"/>
<use href="#p" x="518" y="381" fill="#78ff00"/>
<use href="#p" x="540" y="381" fill="#78ff00"/>
<use href="#u" x="521" y="387" fill="#beff00"/>
<use href="#l" x="513" y="389" fill="#ffaa00"/>
<use href="#p" x="553" y="385" fill="#dcff00"/>
<use href="#r" x="572" y="390" fill="#3cff00"/>
<use href="#l" x="550" y="394" fill="#00dc3c"/>
<use href="#d" x="537" y="399" fill="#64ff00"/>
<use href="#r" x="489" y="404" fill="#e6ff00"/>
<use href="#d" x="534" y="422" fill="#ffaa00"/>
<use href="#d" x="577" y="421" fill="#c8ff00"/>
<use href="#l" x="551" y="439" fill="#82ff00"/>
<use href="#r" x="602" y="189" fill="#000000"/>
<use href="#u" x="581" y="217" fill="#0000ff"/>
<use href="#r" x="482" y="245" fill="#ff0000"/>
<use href="#l" x="431" y="176" fill="#ff0000"/>
<use href="#d" x="452" y="174" fill="#00ff28"/>
<use href="#p" x="402" y="222" fill="#00ff00"/>
<use href="#l" x="389" y="225" fill="#28ff00"/>
<use href="#r" x="418" y="224" fill="#00ff00"/>
<use href="#l" x="368" y="228" fill="#82ff00"/>
<use href="#p" x="367" y="230" fill="#00f0dc"/>
<use href="#p" x="379" y="226" fill="#64ff00"/>
<use href="#u" x="389" y="226" fill="#00ff64"/>
<use href="#r" x="375" y="232" fill="#00ff50"/>
<use href="#r" x="387" y="234" fill="#3c00ff"/>
<use href="#p" x="383" y="238" fill="#00ff00"/>
<use href="#p" x="382" y="241" fill="#00e6ff"/>
<use href="#l" x="386" y="241" fill="#3cff00"/>
<use href="#l" x="386" y="246" fill="#50ff00"/>
<use href="#l" x="375" y="251" fill="#00e6ff"/>
<use href="#p" x="387" y="250" fill="#00ff78"/>
<use href="#p" x="357" y="249" fill="#00ff00"/>
<use href="#p" x="364" y="247" fill="#00ff00"/>
<use href="#p" x="367" y="247" fill="#00ff00"/>
<use href="#d" x="364" y="250" fill="#50ff00"/>
<use href="#r" x="350" y="257" fill="#003cff"/>
<use href="#l" x="355" y="256" fill="#00dcff"/>
<use href="#p" x="367" y="259" fill="#00ff64"/>
<use href="#p" x="371" y="257" fill="#00ff64"/>
<use href="#p" x="380" y="256" fill="#64ff00"/>
<use href="#l" x="371" y="261" fill="#0064ff"/>
<use href="#u" x="376" y="261" fill="#00ff50"/>
<use href="#p" x="378" y="263" fill="#ff8c00"/>
<use href="#u" x="385" y="261" fill="#00ff00"/>
<use href="#p" x="344" y="262" fill="#00f0b4"/>
<use href="#p" x="356" y="264" fill="#00dcff"/>
<use href="#u" x="346" y="265" fill="#ffaa00"/>
<use href="#p" x="347" y="267" fill="#000000"/>
<use href="#p" x="341" y="268" fill="#5000a0"/>
<use href="#p" x="345" y="267" fill="#3c008c"/>
<use href="#u" x="337" y="268" fill="#beff00"/>
<use href="#u" x="328" y="271" fill="#ff0000"/>
<use href="#d" x="321" y="273" fill="#00f0e6"/>
<use href="#l" x="340" y="272" fill="#beff00"/>
<use href="#p" x="333" y="276" fill="#00ff00"/>
<use href="#l" x="339" y="276" fill="#500096"/>
<use href="#p" x="343" y="277" fill="#003cff"/>
<use href="#p" x="345" y="275" fill="#ff0000"/>
<use href="#p" x="343" y="281" fill="#ff0000"/>
<use href="#p" x="332" y="279" fill="#ffff00"/>
<use href="#p" x="351" y="277" fill="#ffff00"/>
<use href="#p" x="347" y="273" fill="#ffff00"/>
<use href="#p" x="346" y="272" fill="#00ff00"/>
<use href="#p" x="350" y="272" fill="#003cff"/>
<use href="#l" x="350" y="273" fill="#500096"/>
<use href="#r" x="314" y="284" fill="#00f0e6"/>
<use href="#p" x="317" y="283" fill="#00f0e6"/>
<use href="#l" x="323" y="283" fill="#003cff"/>
<use href="#p" x="324" y="286" fill="#ff0000"/>
<use href="#l" x="328" y="284" fill="#00f0e6"/>
<use href="#p" x="330" y="287" fill="#003cff"/>
<use href="#u" x="332" y="286" fill="#ff0000"/>
<use href="#p" x="341" y="285" fill="#ffff00"/>
<use href="#l" x="345" y="284" fill="#000000"/>
<use href="#p" x="346" y="286" fill="#0096ff"/>
<use href="#l" x="353" y="283" fill="#00f0e6"/>
<use href="#r" x="354" y="287" fill="#00ff00"/>
<use href="#d" x="325" y="294" fill="#003cff"/>
<use href="#p" x="326" y="298" fill="#aaff00"/>
<use href="#u" x="337" y="297" fill="#003cff"/>
<use href="#u" x="339" y="298" fill="#500096"/>
<use href="#d" x="341" y="295" fill="#0078ff"/>
<use href="#l" x="349" y="292" fill="#ff9600"/>
<use href="#l" x="348" y="291" fill="#000000"/>
<use href="#p" x="352" y="295" fill="#500096"/>
<use href="#p" x="354" y="297" fill="#003cff"/>
<use href="#l" x="347" y="301" fill="#003cff"/>
<use href="#p" x="349" y="301" fill="#00f0e6"/>
<use href="#l" x="313" y="310" fill="#00b4ff"/>
<use href="#l" x="354" y="312" fill="#ff0000"/>
<use href="#p" x="353" y="306" fill="#00ff78"/>
<use href="#p" x="356" y="304" fill="#aaff00"/>
<use href="#r" x="363" y="314" fill="#aaff00"/>
<use href="#l" x="353" y="316" fill="#500096"/>
<use href="#d" x="354" y="317" fill="#00f0e6"/>
<use href="#l" x="369" y="315" fill="#00f0e6"/>
<use href="#p" x="362" y="309" fill="#00ff00"/>
<use href="#p" x="365" y="309" fill="#00f0e6"/>
<use href="#p" x="407" y="262" fill="#00ff00"/>
<use href="#p" x="399" y="263" fill="#00ff00"/>
<use href="#l" x="411" y="265" fill="#aaff00"/>
<use href="#p" x="416" y="268" fill="#00ff78"/>
<use href="#u" x="414" y="272" fill="#0000ff"/>
<use href="#p" x="399" y="269" fill="#00f0e6"/>
<use href="#p" x="403" y="268" fill="#00f0e6"/>
<use href="#l" x="407" y="267" fill="#00ff00"/>
<use href="#r" x="391" y="273" fill="#00ff00"/>
<use href="#p" x="411" y="280" fill="#0082ff"/>
<use href="#d" x="419" y="283" fill="#00ff78"/>
<use href="#r" x="413" y="288" fill="#00ff00"/>
<use href="#l" x="405" y="289" fill="#00ff00"/>
<use href="#p" x="406" y="293" fill="#00ff00"/>
<use href="#r" x="400" y="293" fill="#00ff00"/>
<use href="#p" x="420" y="296" fill="#00ff00"/>
<use href="#p" x="412" y="297" fill="#0082ff"/>
<use href="#r" x="386" y="279" fill="#ff0000"/>
<use href="#r" x="394" y="280" fill="#00ff00"/>
<use href="#l" x="390" y="286" fill="#003cff"/>
<use href="#d" x="384" y="289" fill="#500096"/>
<use href="#l" x="395" y="292" fill="#00ff00"/>
<use href="#l" x="419" y="311" fill="#aaff00"/>
<use href="#u" x="420" y="315" fill="#ff0000"/>
<use href="#p" x="404" y="315" fill="#00ff00"/>
<use href="#p" x="407" y="303" fill="#00ff00"/>
<use href="#l" x="394" y="315" fill="#00f0e6"/>
<use href="#p" x="406" y="318" fill="#00ff78"/>
<use href="#p" x="411" y="319" fill="#00ff00"/>
<use href="#p" x="411" y="319" fill="#00ff00"/>
<use href="#p" x="394" y="231" fill="#00ff00"/>
<use href="#p" x="394" y="233" fill="#ff0000"/>
<use href="#p" x="393" y="235" fill="#00ff00"/>
<use href="#l" x="392" y="238" fill="#ff9600"/>
<use href="#p" x="395" y="238" fill="#00ff00"/>
<use href="#p" x="398" y="238" fill="#ff9600"/>
<use href="#p" x="414" y="239" fill="#00ff00"/>
<use href="#l" x="392" y="245" fill="#00ff00"/>
<use href="#p" x="412" y="248" fill="#00ff78"/>
<use href="#l" x="421" y="248" fill="#00ff00"/>
<use href="#u" x="424" y="247" fill="#50ff00"/>
<use href="#p" x="390" y="251" fill="#ff6400"/>
<use href="#p" x="394" y="249" fill="#aaff00"/>
<use href="#l" x="411" y="254" fill="#00ff00"/>
<use href="#p" x="411" y="256" fill="#3cff00"/>
<use href="#d" x="428" y="254" fill="#00ff50"/>
<use href="#p" x="397" y="256" fill="#ffff00"/>
<use href="#p" x="394" y="259" fill="#00ff00"/>
<use href="#p" x="389" y="262" fill="#00f0e6"/>
<use href="#l" x="390" y="264" fill="#ff0000"/>
<use href="#p" x="391" y="263" fill="#00ff00"/>
<use href="#p" x="394" y="265" fill="#00ff00"/>
<use href="#p" x="393" y="267" fill="#00f0e6"/>
<use href="#p" x="376" y="313" fill="#00ff00"/>
<use href="#d" x="379" y="310" fill="#ff9600"/>
<use href="#l" x="354" y="319" fill="#00ff00"/>
<use href="#l" x="364" y="320" fill="#00ff00"/>
<use href="#p" x="361" y="323" fill="#00ff00"/>
<use href="#p" x="371" y="321" fill="#00ff00"/>
<use href="#p" x="380" y="320" fill="#00ff00"/>
<use href="#l" x="373" y="326" fill="#00ff00"/>
<use href="#l" x="351" y="324" fill="#00f0e6"/>
<use href="#p" x="390" y="321" fill="#00ff00"/>
<use href="#l" x="392" y="324" fill="#00ff00"/>
<use href="#l" x="397" y="323" fill="#00ff00"/>
<use href="#l" x="402" y="320" fill="#00ff00"/>
<use href="#l" x="418" y="322" fill="#ffff00"/>
<use href="#d" x="412" y="327" fill="#00ff00"/>
<use href="#p" x="388" y="327" fill="#00f0e6"/>
<use href="#d" x="390" y="327" fill="#00ff00"/>
<use href="#p" x="391" y="329" fill="#003cff"/>
<use href="#u" x="421" y="327" fill="#00ff78"/>
<use href="#d" x="453" y="278" fill="#00ff00"/>
<use href="#x" x="245" y="177" fill="#ff0000"/>
<use href="#x" x="217" y="195" fill="#ff0000"/>
<use href="#x" x="253" y="195" fill="#ff0000"/>
<use href="#x" x="249" y="203" fill="#ff0000"/>
<use href="#x" x="330" y="217" fill="#ff0000"/>
<use href="#x" x="366" y="224" fill="#ff0000"/>
<use href="#x" x="345" y="243" fill="#ff0000"/>
<use href="#x" x="309" y="264" fill="#ff6400"/>
<use href="#x" x="319" y="270" fill="#0000ff"/>
<use href="#x" x="313" y="274" fill="#96ff00"/>
<use href="#x" x="357" y="255" fill="#ff0000"/>
<use href="#x" x="361" y="258" fill="#ff0000"/>
<use href="#x" x="362" y="255" fill="#ffaa00"/>
<use href="#x" x="364" y="264" fill="#000000"/>
<use href="#x" x="362" y="266" fill="#ff0000"/>
<use href="#x" x="378" y="238" fill="#00f0d2"/>
<use href="#x" x="386" y="238" fill="#00c8ff"/>
<use href="#x" x="383" y="267" fill="#ffff00"/>
<use href="#x" x="332" y="282" fill="#000000"/>
<use href="#x" x="346" y="280" fill="#000000"/>
<use href="#x" x="360" y="288" fill="#ff0000"/>
<use href="#x" x="372" y="289" fill="#000000"/>
<use href="#x" x="376" y="292" fill="#ff0000"/>
<use href="#x" x="370" y="294" fill="#5000a0"/>
<use href="#x" x="361" y="300" fill="#ff0000"/>
<use href="#x" x="360" y="298" fill="#000000"/>
<use href="#x" x="372" y="308" fill="#1e3cff"/>
<use href="#x" x="376" y="306" fill="#000000"/>
<use href="#x" x="380" y="304" fill="#000000"/>
<use href="#x" x="400" y="274" fill="#ffff00"/>
<use href="#x" x="400" y="276" fill="#50008c"/>
<use href="#x" x="423" y="283" fill="#000000"/>
<use href="#x" x="401" y="287" fill="#000000"/>
<use href="#x" x="393" y="298" fill="#000000"/>
<use href="#x" x="373" y="288" fill="#ff0000"/>
<use href="#x" x="386" y="294" fill="#ff0000"/>
<use href="#x" x="378" y="298" fill="#ffff00"/>
<use href="#x" x="382" y="306" fill="#000000"/>
<use href="#x" x="388" y="308" fill="#000000"/>
<use href="#x" x="392" y="304" fill="#000000"/>
<use href="#x" x="394" y="306" fill="#003cff"/>
<use href="#x" x="400" y="304" fill="#000000"/>
<use href="#x" x="402" y="302" fill="#ff0000"/>
<use href="#x" x="406" y="306" fill="#000000"/>
<use href="#x" x="400" y="312" fill="#000000"/>
<use href="#x" x="388" y="315" fill="#ff0000"/>
<use href="#x" x="417" y="315" fill="#000000"/>
<use href="#x" x="446" y="321" fill="#50ff00"/>
<use href="#x" x="424" y="322" fill="#000000"/>
<use href="#x" x="397" y="234" fill="#ff0000"/>
<use href="#x" x="406" y="234" fill="#ff9600"/>
<use href="#x" x="408" y="236" fill="#ff8200"/>
<use href="#x" x="400" y="234" fill="#ff0000"/>
<use href="#x" x="395" y="246" fill="#ffaa00"/>
<use href="#x" x="402" y="249" fill="#82ff00"/>
<use href="#x" x="389" y="258" fill="#beff00"/>
<use href="#x" x="406" y="217" fill="#00f0f0"/>
<use href="#x" x="471" y="235" fill="#00b4ff"/>
<use href="#x" x="515" y="255" fill="#00c8ff"/>
<use href="#x" x="576" y="269" fill="#ff0000"/>
<use href="#x" x="505" y="360" fill="#000000"/>
<use href="#x" x="551" y="351" fill="#000000"/>
<use href="#x" x="317" y="431" fill="#000000"/>
</g>
<rect x="719" y="87" width="26" height="424" fill="url(#cb)" shape-rendering="crispEdges"/>
<text x="251.20" y="39.80" font-size="14.00" textLength="46.80" lengthAdjust="spacingAndGlyphs">Tromsø</text>
<text x="306.00" y="39.80" font-size="14.00" textLength="67.00" lengthAdjust="spacingAndGlyphs">20120706</text>
<text x="379.50" y="39.80" font-size="14.00" textLength="57.30" lengthAdjust="spacingAndGlyphs">03:22:00</text>
<rect x="438" y="35" width="11" height="1" fill="#000" shape-rendering="crispEdges"/>
<text x="450.20" y="39.80" font-size="14.00" textLength="57.50" lengthAdjust="spacingAndGlyphs">03:23:43</text>
<text x="254.00" y="51.80" font-size="14.00" textLength="58.00" lengthAdjust="spacingAndGlyphs">RwPretec</text>
<text x="320.50" y="51.80" font-size="14.00" textLength="25.30" lengthAdjust="spacingAndGlyphs">(8p)</text>
<text x="356.20" y="51.80" font-size="14.00" textLength="92.60" lengthAdjust="spacingAndGlyphs">EXPERIMENTAL</text>
<text x="456.20" y="51.80" font-size="14.00" textLength="50.00" lengthAdjust="spacingAndGlyphs">SKYMAP</text>
<text x="329.60" y="566.80" font-size="10.60" textLength="6.70" lengthAdjust="spacingAndGlyphs">E</text>
<rect x="337" y="563" width="7" height="1" fill="#000" shape-rendering="crispEdges"/>
<text x="344.80" y="566.80" font-size="10.60" textLength="8.40" lengthAdjust="spacingAndGlyphs">W</text>
<text x="358.70" y="566.80" font-size="10.60" textLength="39.20" lengthAdjust="spacingAndGlyphs">location</text>
<text x="410.00" y="566.80" font-size="10.60" textLength="14.00" lengthAdjust="spacingAndGlyphs">km</text>
<path d="M405 558h4v1h-2v10h2v1h-4z M426 558h3v12h-3v-1h2v-10h-2z" fill="#000" shape-rendering="crispEdges"/>
<g transform="translate(38.8,349.8) rotate(-90)">
<text x="-0.20" y="0.00" font-size="10.60" textLength="6.50" lengthAdjust="spacingAndGlyphs">N</text>
<text x="15.60" y="0.00" font-size="10.60" textLength="6.50" lengthAdjust="spacingAndGlyphs">S</text>
<text x="28.80" y="0.00" font-size="10.60" textLength="39.30" lengthAdjust="spacingAndGlyphs">location</text>
<text x="80.20" y="0.00" font-size="10.60" textLength="13.60" lengthAdjust="spacingAndGlyphs">km</text>
</g>
<rect x="35" y="335" width="1" height="7" fill="#000" shape-rendering="crispEdges"/>
<path d="M29 251h12v4h-1v-2h-10v2h-1z M29 271h1v2h10v-2h1v4h-12z" fill="#000" shape-rendering="crispEdges"/>
<text x="57.00" y="67.00" font-size="11.00" textLength="19.30" lengthAdjust="spacingAndGlyphs">200</text>
<text x="57.30" y="184.00" font-size="11.00" textLength="19.00" lengthAdjust="spacingAndGlyphs">100</text>
<text x="70.60" y="304.00" font-size="11.00" textLength="5.70" lengthAdjust="spacingAndGlyphs">0</text>
<rect x="48" y="420" width="7" height="1" fill="#000" shape-rendering="crispEdges"/>
<text x="57.30" y="424.00" font-size="11.00" textLength="19.00" lengthAdjust="spacingAndGlyphs">100</text>
<rect x="48" y="536" width="7" height="1" fill="#000" shape-rendering="crispEdges"/>
<text x="57.00" y="540.00" font-size="11.00" textLength="19.30" lengthAdjust="spacingAndGlyphs">200</text>
<rect x="66" y="551" width="7" height="1" fill="#000" shape-rendering="crispEdges"/>
<text x="75.00" y="555.00" font-size="11.00" textLength="19.20" lengthAdjust="spacingAndGlyphs">200</text>
<rect x="216" y="551" width="7" height="1" fill="#000" shape-rendering="crispEdges"/>
<text x="225.00" y="555.00" font-size="11.00" textLength="19.20" lengthAdjust="spacingAndGlyphs">100</text>
<text x="377.00" y="555.00" font-size="11.00" textLength="6.00" lengthAdjust="spacingAndGlyphs">0</text>
<text x="520.60" y="555.00" font-size="11.00" textLength="19.00" lengthAdjust="spacingAndGlyphs">100</text>
<text x="670.00" y="555.00" font-size="11.00" textLength="19.60" lengthAdjust="spacingAndGlyphs">200</text>
<text x="747.00" y="97.00" font-size="11.00" textLength="19.60" lengthAdjust="spacingAndGlyphs">200</text>
<text x="747.60" y="199.00" font-size="11.00" textLength="19.00" lengthAdjust="spacingAndGlyphs">100</text>
<text x="747.00" y="304.00" font-size="11.00" textLength="6.00" lengthAdjust="spacingAndGlyphs">0</text>
<rect x="748" y="405" width="7" height="1" fill="#000" shape-rendering="crispEdges"/>
<text x="756.40" y="409.00" font-size="11.00" textLength="18.90" lengthAdjust="spacingAndGlyphs">100</text>
<rect x="748" y="506" width="7" height="1" fill="#000" shape-rendering="crispEdges"/>
<text x="756.00" y="510.00" font-size="11.00" textLength="19.30" lengthAdjust="spacingAndGlyphs">200</text>
<path d="M716 73h4v1h-3v13h3v1h-4z M751 73h3v15h-3v-1h2v-13h-2z" fill="#000" shape-rendering="crispEdges"/>
<path d="M741.3 73 L734.8 87.5" stroke="#000" stroke-width="1" fill="none"/>
<text x="722.00" y="84.80" font-size="12.80" textLength="9.80" lengthAdjust="spacingAndGlyphs">m</text>
<text x="743.00" y="84.80" font-size="12.80" textLength="5.80" lengthAdjust="spacingAndGlyphs">s</text>
</svg></body></html>
